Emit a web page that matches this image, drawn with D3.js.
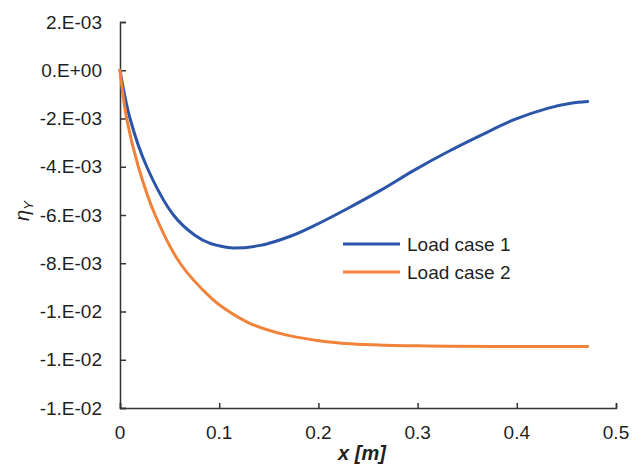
<!DOCTYPE html>
<html>
<head>
<meta charset="utf-8">
<script src="https://cdn.jsdelivr.net/npm/d3@7"></script>
<style>
  html, body { margin: 0; padding: 0; background: #fff; }
  svg { display: block; font-family: "Liberation Sans", Arial, sans-serif; }
</style>
</head>
<body>
<svg id="chart" width="643" height="464"></svg>
<script>
// Position along the beam x [m]
const xCase1 = [0, 0.0101, 0.027, 0.0539, 0.0758, 0.0909, 0.106, 0.1144, 0.1414, 0.1717, 0.1953, 0.229, 0.2626, 0.2963, 0.33, 0.3636, 0.3973, 0.431, 0.4545, 0.4714];
const etaCase1 = [0, -0.002, -0.004, -0.006, -0.00685, -0.00718, -0.00733, -0.00737, -0.00726, -0.00688, -0.00645, -0.00574, -0.00498, -0.00415, -0.00339, -0.0027, -0.00205, -0.00158, -0.00137, -0.0013];

const xCase2 = [0, 0.0067, 0.0185, 0.0354, 0.0606, 0.0926, 0.106, 0.1313, 0.165, 0.1987, 0.2323, 0.266, 0.2997, 0.3333, 0.4007, 0.4714];
const etaCase2 = [0, -0.002, -0.004, -0.006, -0.008, -0.00947, -0.0099, -0.0105, -0.01095, -0.0112, -0.01134, -0.0114, -0.01142, -0.01144, -0.01145, -0.01145];

const seriesNames = ["Load case 1", "Load case 2"];
const seriesColors = ["#2b55a8", "#f0823a"];

const xTicks = [0, 0.1, 0.2, 0.3, 0.4, 0.5];
const yTicks = [0.002, 0, -0.002, -0.004, -0.006, -0.008, -0.010, -0.012, -0.014];

const svg = d3.select("#chart");
const plotLeft = 120, plotRight = 616, plotTop = 22, plotBottom = 408;

const x = d3.scaleLinear().domain([0, 0.5]).range([plotLeft, plotRight]);
const y = d3.scaleLinear().domain([-0.014, 0.002]).range([plotBottom, plotTop]);

// Spreadsheet-style scientific labels, e.g. "2.E-03", "0.E+00"
function sciLabel(v) {
  const [m, e] = v.toExponential(0).split("e");
  const sign = e[0] === "-" ? "-" : "+";
  return m + ".E" + sign + e.replace(/[+-]/, "").padStart(2, "0");
}

const axisColor = "#333";
const textColor = "#1f1f1f";
const fontSize = 19;

// y axis with inward ticks
const yAxis = d3.axisRight(y).tickValues(yTicks).tickSize(6).tickFormat("");
const gy = svg.append("g").attr("transform", `translate(${plotLeft},0)`).call(yAxis);
gy.select(".domain").attr("stroke", axisColor).attr("stroke-width", 1.5);
gy.selectAll(".tick line").attr("stroke", axisColor).attr("stroke-width", 1.5);

svg.append("g").selectAll("text").data(yTicks).join("text")
  .attr("x", 102).attr("y", d => y(d))
  .attr("dy", "0.35em")
  .attr("text-anchor", "end")
  .attr("font-size", fontSize)
  .attr("fill", textColor)
  .text(sciLabel);

// x axis with inward ticks
const xAxis = d3.axisTop(x).tickValues(xTicks).tickSize(5).tickFormat("");
const gx = svg.append("g").attr("transform", `translate(0,${plotBottom})`).call(xAxis);
gx.select(".domain").attr("stroke", axisColor).attr("stroke-width", 1.5);
gx.selectAll(".tick line").attr("stroke", axisColor).attr("stroke-width", 1.5);

svg.append("g").selectAll("text").data(xTicks).join("text")
  .attr("x", d => x(d)).attr("y", 439)
  .attr("text-anchor", "middle")
  .attr("font-size", fontSize)
  .attr("fill", textColor)
  .text(d => d3.format("")(d));

// axis titles
svg.append("text")
  .attr("x", 362).attr("y", 460)
  .attr("text-anchor", "middle")
  .attr("font-size", 20)
  .attr("font-weight", "bold")
  .attr("font-style", "italic")
  .attr("fill", textColor)
  .text("x [m]");

const yTitle = svg.append("text")
  .attr("transform", "translate(29,211) rotate(-90)")
  .attr("text-anchor", "middle")
  .attr("font-size", 20)
  .attr("font-style", "italic")
  .attr("fill", textColor);
yTitle.append("tspan").text("η");
yTitle.append("tspan").attr("font-size", 13).attr("dy", 4).text("Y");

// series lines, smoothed through the sampled points
const line = d3.line()
  .x(d => x(d[0]))
  .y(d => y(d[1]))
  .curve(d3.curveCatmullRom.alpha(0.5));

const series = [
  d3.zip(xCase1, etaCase1),
  d3.zip(xCase2, etaCase2)
];

svg.append("g").selectAll("path").data(series).join("path")
  .attr("d", line)
  .attr("fill", "none")
  .attr("stroke", (d, i) => seriesColors[i])
  .attr("stroke-width", 3)
  .attr("stroke-linejoin", "round")
  .attr("stroke-linecap", "round");

// legend
const legend = svg.append("g").selectAll("g").data(seriesNames).join("g")
  .attr("transform", (d, i) => `translate(343,${244 + i * 28})`);
legend.append("line")
  .attr("x1", 0).attr("x2", 57)
  .attr("stroke", (d, i) => seriesColors[i])
  .attr("stroke-width", 3);
legend.append("text")
  .attr("x", 64).attr("dy", "0.35em")
  .attr("font-size", fontSize)
  .attr("fill", textColor)
  .text(d => d);
</script>
</body>
</html>
